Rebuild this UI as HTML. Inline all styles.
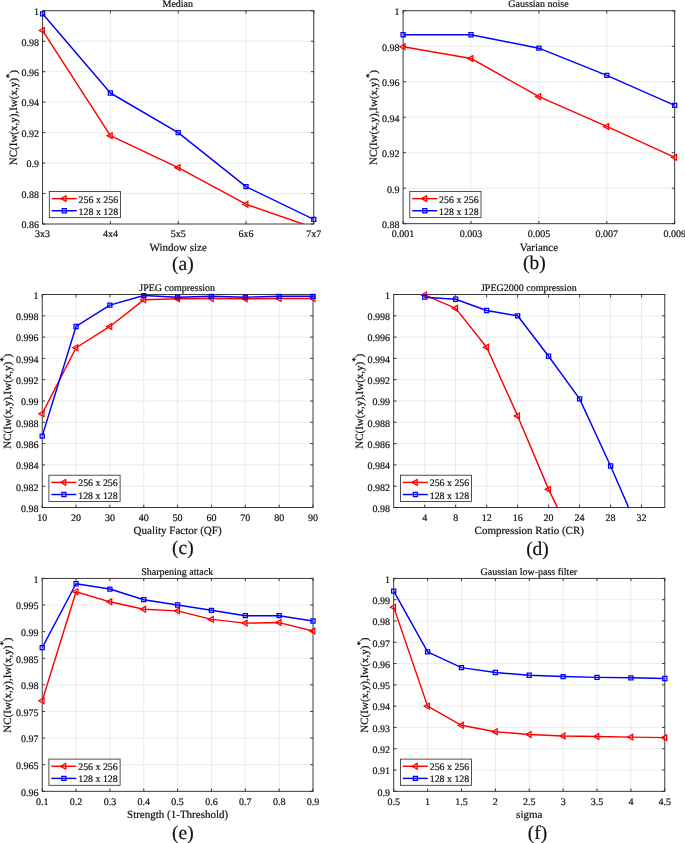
<!DOCTYPE html>
<html><head><meta charset="utf-8"><title>Figure</title>
<style>html,body{margin:0;padding:0;background:#fff}svg{display:block}text{stroke:#111;stroke-width:.2px}</style>
</head><body>
<svg text-rendering="geometricPrecision" width="685" height="843" viewBox="0 0 685 843" font-family='"Liberation Serif", serif' fill="#111">
<rect width="685" height="843" fill="#fff"/>
<g>
<path d="M110.4 10.75V224M178.2 10.75V224M246 10.75V224M42.6 41.21H313.8M42.6 71.68H313.8M42.6 102.14H313.8M42.6 132.61H313.8M42.6 163.07H313.8M42.6 193.54H313.8" stroke="#dedede" stroke-width="0.6" fill="none"/>
<clipPath id="c0"><rect x="42.6" y="9.75" width="271.2" height="214.25"/></clipPath>
<path d="M42.6 224v-2.8M42.6 10.75v2.8M110.4 224v-2.8M110.4 10.75v2.8M178.2 224v-2.8M178.2 10.75v2.8M246 224v-2.8M246 10.75v2.8M313.8 224v-2.8M313.8 10.75v2.8M42.6 10.75h2.8M313.8 10.75h-2.8M42.6 41.21h2.8M313.8 41.21h-2.8M42.6 71.68h2.8M313.8 71.68h-2.8M42.6 102.14h2.8M313.8 102.14h-2.8M42.6 132.61h2.8M313.8 132.61h-2.8M42.6 163.07h2.8M313.8 163.07h-2.8M42.6 193.54h2.8M313.8 193.54h-2.8M42.6 224h2.8M313.8 224h-2.8" stroke="#262626" stroke-width="0.9" fill="none"/>
<rect x="42.6" y="10.75" width="271.2" height="213.25" fill="none" stroke="#262626" stroke-width="0.9"/>
<polyline clip-path="url(#c0)" points="42.6,30.55 110.4,135.65 178.2,167.64 246,204.2 313.8,227.81" fill="none" stroke="#f00" stroke-width="1.45" stroke-linejoin="round"/>
<path d="M39.3 30.55L44.4 27.65L44.4 33.45ZM107.1 135.65L112.2 132.75L112.2 138.55ZM174.9 167.64L180 164.74L180 170.54ZM242.7 204.2L247.8 201.3L247.8 207.1Z" fill="none" stroke="#f00" stroke-width="1.25"/>
<polyline clip-path="url(#c0)" points="42.6,13.8 110.4,93 178.2,132.61 246,186.68 313.8,219.43" fill="none" stroke="#00f" stroke-width="1.45" stroke-linejoin="round"/>
<path d="M40.55 11.75h4.1v4.1h-4.1ZM108.35 90.95h4.1v4.1h-4.1ZM176.15 130.56h4.1v4.1h-4.1ZM243.95 184.63h4.1v4.1h-4.1ZM311.75 217.38h4.1v4.1h-4.1Z" fill="none" stroke="#00f" stroke-width="1.25"/>
<rect x="49.3" y="191.45" width="71.2" height="26.2" fill="#fff" stroke="#262626" stroke-width="0.8"/>
<path d="M51.7 198.65H76.7" stroke="#f00" stroke-width="1.45"/>
<path d="M61 198.65L66.1 195.75L66.1 201.55Z" fill="none" stroke="#f00" stroke-width="1.25"/>
<path d="M51.7 210.75H76.7" stroke="#00f" stroke-width="1.45"/>
<path d="M62.25 208.7h4.1v4.1h-4.1Z" fill="none" stroke="#00f" stroke-width="1.25"/>
<g font-size="9.9"><text x="78.6" y="202.65">256 x 256</text><text x="78.6" y="214.75">128 x 128</text></g>
<g font-size="10" text-anchor="middle">
<text x="42.6" y="237.2">3x3</text>
<text x="110.4" y="237.2">4x4</text>
<text x="178.2" y="237.2">5x5</text>
<text x="246" y="237.2">6x6</text>
<text x="313.8" y="237.2">7x7</text>
</g>
<g font-size="10" text-anchor="end">
<text x="38.9" y="15.05">1</text>
<text x="38.9" y="45.51">0.98</text>
<text x="38.9" y="75.98">0.96</text>
<text x="38.9" y="106.44">0.94</text>
<text x="38.9" y="136.91">0.92</text>
<text x="38.9" y="167.37">0.9</text>
<text x="38.9" y="197.84">0.88</text>
<text x="38.9" y="228.3">0.86</text>
</g>
<text x="177.8" y="7.45" font-size="10" text-anchor="middle">Median</text>
<text x="178.2" y="250.8" font-size="11" text-anchor="middle">Window size</text>
<text x="182.9" y="270.4" font-size="19.5" text-anchor="middle">(a)</text>
<text transform="translate(16.7 117.67) rotate(-90)" font-size="11" text-anchor="middle">NC(Iw(x,y),Iw(x,y)<tspan dy="-5" font-size="9">*</tspan><tspan dy="5" dx="-0.2">)</tspan></text>
</g>
<g>
<path d="M471 10.75V223.7M538.9 10.75V223.7M606.8 10.75V223.7M403.1 46.24H674.7M403.1 81.73H674.7M403.1 117.23H674.7M403.1 152.72H674.7M403.1 188.21H674.7" stroke="#dedede" stroke-width="0.6" fill="none"/>
<clipPath id="c1"><rect x="403.1" y="9.75" width="271.6" height="213.95"/></clipPath>
<path d="M403.1 223.7v-2.8M403.1 10.75v2.8M471 223.7v-2.8M471 10.75v2.8M538.9 223.7v-2.8M538.9 10.75v2.8M606.8 223.7v-2.8M606.8 10.75v2.8M674.7 223.7v-2.8M674.7 10.75v2.8M403.1 10.75h2.8M674.7 10.75h-2.8M403.1 46.24h2.8M674.7 46.24h-2.8M403.1 81.73h2.8M674.7 81.73h-2.8M403.1 117.23h2.8M674.7 117.23h-2.8M403.1 152.72h2.8M674.7 152.72h-2.8M403.1 188.21h2.8M674.7 188.21h-2.8M403.1 223.7h2.8M674.7 223.7h-2.8" stroke="#262626" stroke-width="0.9" fill="none"/>
<rect x="403.1" y="10.75" width="271.6" height="212.95" fill="none" stroke="#262626" stroke-width="0.9"/>
<polyline clip-path="url(#c1)" points="403.1,46.77 471,58.49 538.9,96.64 606.8,126.45 674.7,157.33" fill="none" stroke="#f00" stroke-width="1.45" stroke-linejoin="round"/>
<path d="M399.8 46.77L404.9 43.87L404.9 49.67ZM467.7 58.49L472.8 55.59L472.8 61.39ZM535.6 96.64L540.7 93.74L540.7 99.54ZM603.5 126.45L608.6 123.55L608.6 129.35ZM671.4 157.33L676.5 154.43L676.5 160.23Z" fill="none" stroke="#f00" stroke-width="1.25"/>
<polyline clip-path="url(#c1)" points="403.1,34.71 471,34.71 538.9,48.19 606.8,75.34 674.7,105.34" fill="none" stroke="#00f" stroke-width="1.45" stroke-linejoin="round"/>
<path d="M401.05 32.66h4.1v4.1h-4.1ZM468.95 32.66h4.1v4.1h-4.1ZM536.85 46.14h4.1v4.1h-4.1ZM604.75 73.29h4.1v4.1h-4.1ZM672.65 103.29h4.1v4.1h-4.1Z" fill="none" stroke="#00f" stroke-width="1.25"/>
<rect x="409.8" y="191.45" width="71.2" height="26.2" fill="#fff" stroke="#262626" stroke-width="0.8"/>
<path d="M412.2 198.65H437.2" stroke="#f00" stroke-width="1.45"/>
<path d="M421.5 198.65L426.6 195.75L426.6 201.55Z" fill="none" stroke="#f00" stroke-width="1.25"/>
<path d="M412.2 210.75H437.2" stroke="#00f" stroke-width="1.45"/>
<path d="M422.75 208.7h4.1v4.1h-4.1Z" fill="none" stroke="#00f" stroke-width="1.25"/>
<g font-size="9.9"><text x="439.1" y="202.65">256 x 256</text><text x="439.1" y="214.75">128 x 128</text></g>
<g font-size="10" text-anchor="middle">
<text x="403.1" y="236.9">0.001</text>
<text x="471" y="236.9">0.003</text>
<text x="538.9" y="236.9">0.005</text>
<text x="606.8" y="236.9">0.007</text>
<text x="674.7" y="236.9">0.009</text>
</g>
<g font-size="10" text-anchor="end">
<text x="399.4" y="15.05">1</text>
<text x="399.4" y="50.54">0.98</text>
<text x="399.4" y="86.03">0.96</text>
<text x="399.4" y="121.53">0.94</text>
<text x="399.4" y="157.02">0.92</text>
<text x="399.4" y="192.51">0.9</text>
<text x="399.4" y="228">0.88</text>
</g>
<text x="538.5" y="7.45" font-size="10" text-anchor="middle">Gaussian noise</text>
<text x="538.9" y="250.5" font-size="11" text-anchor="middle">Variance</text>
<text x="534.3" y="268.6" font-size="19.5" text-anchor="middle">(b)</text>
<text transform="translate(377.2 117.52) rotate(-90)" font-size="11" text-anchor="middle">NC(Iw(x,y),Iw(x,y)<tspan dy="-5" font-size="9">*</tspan><tspan dy="5" dx="-0.2">)</tspan></text>
</g>
<g>
<path d="M76.05 294.5V507.5M109.9 294.5V507.5M143.75 294.5V507.5M177.6 294.5V507.5M211.45 294.5V507.5M245.3 294.5V507.5M279.15 294.5V507.5M42.2 315.8H313M42.2 337.1H313M42.2 358.4H313M42.2 379.7H313M42.2 401H313M42.2 422.3H313M42.2 443.6H313M42.2 464.9H313M42.2 486.2H313" stroke="#dedede" stroke-width="0.6" fill="none"/>
<clipPath id="c2"><rect x="42.2" y="293.5" width="270.8" height="214"/></clipPath>
<path d="M42.2 507.5v-2.8M42.2 294.5v2.8M76.05 507.5v-2.8M76.05 294.5v2.8M109.9 507.5v-2.8M109.9 294.5v2.8M143.75 507.5v-2.8M143.75 294.5v2.8M177.6 507.5v-2.8M177.6 294.5v2.8M211.45 507.5v-2.8M211.45 294.5v2.8M245.3 507.5v-2.8M245.3 294.5v2.8M279.15 507.5v-2.8M279.15 294.5v2.8M313 507.5v-2.8M313 294.5v2.8M42.2 294.5h2.8M313 294.5h-2.8M42.2 315.8h2.8M313 315.8h-2.8M42.2 337.1h2.8M313 337.1h-2.8M42.2 358.4h2.8M313 358.4h-2.8M42.2 379.7h2.8M313 379.7h-2.8M42.2 401h2.8M313 401h-2.8M42.2 422.3h2.8M313 422.3h-2.8M42.2 443.6h2.8M313 443.6h-2.8M42.2 464.9h2.8M313 464.9h-2.8M42.2 486.2h2.8M313 486.2h-2.8M42.2 507.5h2.8M313 507.5h-2.8" stroke="#262626" stroke-width="0.9" fill="none"/>
<rect x="42.2" y="294.5" width="270.8" height="213" fill="none" stroke="#262626" stroke-width="0.9"/>
<polyline clip-path="url(#c2)" points="42.2,413.78 76.05,347.75 109.9,326.45 143.75,299.82 177.6,298.76 211.45,298.55 245.3,298.76 279.15,298.55 313,298.55" fill="none" stroke="#f00" stroke-width="1.45" stroke-linejoin="round"/>
<path d="M38.9 413.78L44 410.88L44 416.68ZM72.75 347.75L77.85 344.85L77.85 350.65ZM106.6 326.45L111.7 323.55L111.7 329.35ZM140.45 299.82L145.55 296.92L145.55 302.72ZM174.3 298.76L179.4 295.86L179.4 301.66ZM208.15 298.55L213.25 295.65L213.25 301.45ZM242 298.76L247.1 295.86L247.1 301.66ZM275.85 298.55L280.95 295.65L280.95 301.45ZM309.7 298.55L314.8 295.65L314.8 301.45Z" fill="none" stroke="#f00" stroke-width="1.25"/>
<polyline clip-path="url(#c2)" points="42.2,436.14 76.05,326.45 109.9,305.15 143.75,295.56 177.6,297.16 211.45,296.31 245.3,297.16 279.15,296.31 313,296.31" fill="none" stroke="#00f" stroke-width="1.45" stroke-linejoin="round"/>
<path d="M40.15 434.09h4.1v4.1h-4.1ZM74 324.4h4.1v4.1h-4.1ZM107.85 303.1h4.1v4.1h-4.1ZM141.7 293.51h4.1v4.1h-4.1ZM175.55 295.11h4.1v4.1h-4.1ZM209.4 294.26h4.1v4.1h-4.1ZM243.25 295.11h4.1v4.1h-4.1ZM277.1 294.26h4.1v4.1h-4.1ZM310.95 294.26h4.1v4.1h-4.1Z" fill="none" stroke="#00f" stroke-width="1.25"/>
<rect x="48.9" y="475.2" width="71.2" height="26.2" fill="#fff" stroke="#262626" stroke-width="0.8"/>
<path d="M51.3 482.4H76.3" stroke="#f00" stroke-width="1.45"/>
<path d="M60.6 482.4L65.7 479.5L65.7 485.3Z" fill="none" stroke="#f00" stroke-width="1.25"/>
<path d="M51.3 494.5H76.3" stroke="#00f" stroke-width="1.45"/>
<path d="M61.85 492.45h4.1v4.1h-4.1Z" fill="none" stroke="#00f" stroke-width="1.25"/>
<g font-size="9.9"><text x="78.2" y="486.4">256 x 256</text><text x="78.2" y="498.5">128 x 128</text></g>
<g font-size="10" text-anchor="middle">
<text x="42.2" y="520.7">10</text>
<text x="76.05" y="520.7">20</text>
<text x="109.9" y="520.7">30</text>
<text x="143.75" y="520.7">40</text>
<text x="177.6" y="520.7">50</text>
<text x="211.45" y="520.7">60</text>
<text x="245.3" y="520.7">70</text>
<text x="279.15" y="520.7">80</text>
<text x="313" y="520.7">90</text>
</g>
<g font-size="10" text-anchor="end">
<text x="38.5" y="298.8">1</text>
<text x="38.5" y="320.1">0.998</text>
<text x="38.5" y="341.4">0.996</text>
<text x="38.5" y="362.7">0.994</text>
<text x="38.5" y="384">0.992</text>
<text x="38.5" y="405.3">0.99</text>
<text x="38.5" y="426.6">0.988</text>
<text x="38.5" y="447.9">0.986</text>
<text x="38.5" y="469.2">0.984</text>
<text x="38.5" y="490.5">0.982</text>
<text x="38.5" y="511.8">0.98</text>
</g>
<text x="177.2" y="291.2" font-size="10" text-anchor="middle">JPEG compression</text>
<text x="177.6" y="534.3" font-size="11" text-anchor="middle">Quality Factor (QF)</text>
<text x="182.9" y="554.2" font-size="19.5" text-anchor="middle">(c)</text>
<text transform="translate(11.3 401.3) rotate(-90)" font-size="11" text-anchor="middle">NC(Iw(x,y),Iw(x,y)<tspan dy="-5" font-size="9">*</tspan><tspan dy="5" dx="-0.2">)</tspan></text>
</g>
<g>
<path d="M424.68 294.5V507.5M455.67 294.5V507.5M486.65 294.5V507.5M517.63 294.5V507.5M548.61 294.5V507.5M579.6 294.5V507.5M610.58 294.5V507.5M641.56 294.5V507.5M393.7 315.8H664.8M393.7 337.1H664.8M393.7 358.4H664.8M393.7 379.7H664.8M393.7 401H664.8M393.7 422.3H664.8M393.7 443.6H664.8M393.7 464.9H664.8M393.7 486.2H664.8" stroke="#dedede" stroke-width="0.6" fill="none"/>
<clipPath id="c3"><rect x="393.7" y="293.5" width="271.1" height="214"/></clipPath>
<path d="M424.68 507.5v-2.8M424.68 294.5v2.8M455.67 507.5v-2.8M455.67 294.5v2.8M486.65 507.5v-2.8M486.65 294.5v2.8M517.63 507.5v-2.8M517.63 294.5v2.8M548.61 507.5v-2.8M548.61 294.5v2.8M579.6 507.5v-2.8M579.6 294.5v2.8M610.58 507.5v-2.8M610.58 294.5v2.8M641.56 507.5v-2.8M641.56 294.5v2.8M393.7 294.5h2.8M664.8 294.5h-2.8M393.7 315.8h2.8M664.8 315.8h-2.8M393.7 337.1h2.8M664.8 337.1h-2.8M393.7 358.4h2.8M664.8 358.4h-2.8M393.7 379.7h2.8M664.8 379.7h-2.8M393.7 401h2.8M664.8 401h-2.8M393.7 422.3h2.8M664.8 422.3h-2.8M393.7 443.6h2.8M664.8 443.6h-2.8M393.7 464.9h2.8M664.8 464.9h-2.8M393.7 486.2h2.8M664.8 486.2h-2.8M393.7 507.5h2.8M664.8 507.5h-2.8" stroke="#262626" stroke-width="0.9" fill="none"/>
<rect x="393.7" y="294.5" width="271.1" height="213" fill="none" stroke="#262626" stroke-width="0.9"/>
<polyline clip-path="url(#c3)" points="424.68,294.93 455.67,308.34 486.65,347.22 517.63,415.91 548.61,489.39 579.6,553.29" fill="none" stroke="#f00" stroke-width="1.45" stroke-linejoin="round"/>
<path d="M421.38 294.93L426.48 292.03L426.48 297.83ZM452.37 308.34L457.47 305.44L457.47 311.24ZM483.35 347.22L488.45 344.32L488.45 350.12ZM514.33 415.91L519.43 413.01L519.43 418.81ZM545.31 489.39L550.41 486.49L550.41 492.29Z" fill="none" stroke="#f00" stroke-width="1.25"/>
<polyline clip-path="url(#c3)" points="424.68,297.16 455.67,299.29 486.65,310.47 517.63,315.8 548.61,356.27 579.6,398.87 610.58,465.96 641.56,537.32" fill="none" stroke="#00f" stroke-width="1.45" stroke-linejoin="round"/>
<path d="M422.63 295.11h4.1v4.1h-4.1ZM453.62 297.24h4.1v4.1h-4.1ZM484.6 308.42h4.1v4.1h-4.1ZM515.58 313.75h4.1v4.1h-4.1ZM546.56 354.22h4.1v4.1h-4.1ZM577.55 396.82h4.1v4.1h-4.1ZM608.53 463.91h4.1v4.1h-4.1Z" fill="none" stroke="#00f" stroke-width="1.25"/>
<rect x="400.4" y="475.2" width="71.2" height="26.2" fill="#fff" stroke="#262626" stroke-width="0.8"/>
<path d="M402.8 482.4H427.8" stroke="#f00" stroke-width="1.45"/>
<path d="M412.1 482.4L417.2 479.5L417.2 485.3Z" fill="none" stroke="#f00" stroke-width="1.25"/>
<path d="M402.8 494.5H427.8" stroke="#00f" stroke-width="1.45"/>
<path d="M413.35 492.45h4.1v4.1h-4.1Z" fill="none" stroke="#00f" stroke-width="1.25"/>
<g font-size="9.9"><text x="429.7" y="486.4">256 x 256</text><text x="429.7" y="498.5">128 x 128</text></g>
<g font-size="10" text-anchor="middle">
<text x="424.68" y="520.7">4</text>
<text x="455.67" y="520.7">8</text>
<text x="486.65" y="520.7">12</text>
<text x="517.63" y="520.7">16</text>
<text x="548.61" y="520.7">20</text>
<text x="579.6" y="520.7">24</text>
<text x="610.58" y="520.7">28</text>
<text x="641.56" y="520.7">32</text>
</g>
<g font-size="10" text-anchor="end">
<text x="390" y="298.8">1</text>
<text x="390" y="320.1">0.998</text>
<text x="390" y="341.4">0.996</text>
<text x="390" y="362.7">0.994</text>
<text x="390" y="384">0.992</text>
<text x="390" y="405.3">0.99</text>
<text x="390" y="426.6">0.988</text>
<text x="390" y="447.9">0.986</text>
<text x="390" y="469.2">0.984</text>
<text x="390" y="490.5">0.982</text>
<text x="390" y="511.8">0.98</text>
</g>
<text x="528.85" y="291.2" font-size="10" text-anchor="middle">JPEG2000 compression</text>
<text x="529.25" y="534.3" font-size="11" text-anchor="middle">Compression Ratio (CR)</text>
<text x="537.5" y="554.5" font-size="19.5" text-anchor="middle">(d)</text>
<text transform="translate(362.8 401.3) rotate(-90)" font-size="11" text-anchor="middle">NC(Iw(x,y),Iw(x,y)<tspan dy="-5" font-size="9">*</tspan><tspan dy="5" dx="-0.2">)</tspan></text>
</g>
<g>
<path d="M76.05 578.4V791.3M109.9 578.4V791.3M143.75 578.4V791.3M177.6 578.4V791.3M211.45 578.4V791.3M245.3 578.4V791.3M279.15 578.4V791.3M42.2 605.01H313M42.2 631.62H313M42.2 658.24H313M42.2 684.85H313M42.2 711.46H313M42.2 738.07H313M42.2 764.69H313" stroke="#dedede" stroke-width="0.6" fill="none"/>
<clipPath id="c4"><rect x="42.2" y="577.4" width="270.8" height="213.9"/></clipPath>
<path d="M42.2 791.3v-2.8M42.2 578.4v2.8M76.05 791.3v-2.8M76.05 578.4v2.8M109.9 791.3v-2.8M109.9 578.4v2.8M143.75 791.3v-2.8M143.75 578.4v2.8M177.6 791.3v-2.8M177.6 578.4v2.8M211.45 791.3v-2.8M211.45 578.4v2.8M245.3 791.3v-2.8M245.3 578.4v2.8M279.15 791.3v-2.8M279.15 578.4v2.8M313 791.3v-2.8M313 578.4v2.8M42.2 578.4h2.8M313 578.4h-2.8M42.2 605.01h2.8M313 605.01h-2.8M42.2 631.62h2.8M313 631.62h-2.8M42.2 658.24h2.8M313 658.24h-2.8M42.2 684.85h2.8M313 684.85h-2.8M42.2 711.46h2.8M313 711.46h-2.8M42.2 738.07h2.8M313 738.07h-2.8M42.2 764.69h2.8M313 764.69h-2.8M42.2 791.3h2.8M313 791.3h-2.8" stroke="#262626" stroke-width="0.9" fill="none"/>
<rect x="42.2" y="578.4" width="270.8" height="212.9" fill="none" stroke="#262626" stroke-width="0.9"/>
<polyline clip-path="url(#c4)" points="42.2,700.82 76.05,591.71 109.9,601.82 143.75,609.27 177.6,610.87 211.45,619.38 245.3,623.11 279.15,622.58 313,631.09" fill="none" stroke="#f00" stroke-width="1.45" stroke-linejoin="round"/>
<path d="M38.9 700.82L44 697.92L44 703.72ZM72.75 591.71L77.85 588.81L77.85 594.61ZM106.6 601.82L111.7 598.92L111.7 604.72ZM140.45 609.27L145.55 606.37L145.55 612.17ZM174.3 610.87L179.4 607.97L179.4 613.77ZM208.15 619.38L213.25 616.48L213.25 622.28ZM242 623.11L247.1 620.21L247.1 626.01ZM275.85 622.58L280.95 619.68L280.95 625.48ZM309.7 631.09L314.8 628.19L314.8 633.99Z" fill="none" stroke="#f00" stroke-width="1.25"/>
<polyline clip-path="url(#c4)" points="42.2,647.59 76.05,583.72 109.9,589.04 143.75,599.69 177.6,605.01 211.45,610.34 245.3,615.66 279.15,615.66 313,620.98" fill="none" stroke="#00f" stroke-width="1.45" stroke-linejoin="round"/>
<path d="M40.15 645.54h4.1v4.1h-4.1ZM74 581.67h4.1v4.1h-4.1ZM107.85 587h4.1v4.1h-4.1ZM141.7 597.64h4.1v4.1h-4.1ZM175.55 602.96h4.1v4.1h-4.1ZM209.4 608.29h4.1v4.1h-4.1ZM243.25 613.61h4.1v4.1h-4.1ZM277.1 613.61h4.1v4.1h-4.1ZM310.95 618.93h4.1v4.1h-4.1Z" fill="none" stroke="#00f" stroke-width="1.25"/>
<rect x="48.9" y="759.1" width="71.2" height="26.2" fill="#fff" stroke="#262626" stroke-width="0.8"/>
<path d="M51.3 766.3H76.3" stroke="#f00" stroke-width="1.45"/>
<path d="M60.6 766.3L65.7 763.4L65.7 769.2Z" fill="none" stroke="#f00" stroke-width="1.25"/>
<path d="M51.3 778.4H76.3" stroke="#00f" stroke-width="1.45"/>
<path d="M61.85 776.35h4.1v4.1h-4.1Z" fill="none" stroke="#00f" stroke-width="1.25"/>
<g font-size="9.9"><text x="78.2" y="770.3">256 x 256</text><text x="78.2" y="782.4">128 x 128</text></g>
<g font-size="10" text-anchor="middle">
<text x="42.2" y="804.5">0.1</text>
<text x="76.05" y="804.5">0.2</text>
<text x="109.9" y="804.5">0.3</text>
<text x="143.75" y="804.5">0.4</text>
<text x="177.6" y="804.5">0.5</text>
<text x="211.45" y="804.5">0.6</text>
<text x="245.3" y="804.5">0.7</text>
<text x="279.15" y="804.5">0.8</text>
<text x="313" y="804.5">0.9</text>
</g>
<g font-size="10" text-anchor="end">
<text x="38.5" y="582.7">1</text>
<text x="38.5" y="609.31">0.995</text>
<text x="38.5" y="635.92">0.99</text>
<text x="38.5" y="662.54">0.985</text>
<text x="38.5" y="689.15">0.98</text>
<text x="38.5" y="715.76">0.975</text>
<text x="38.5" y="742.37">0.97</text>
<text x="38.5" y="768.99">0.965</text>
<text x="38.5" y="795.6">0.96</text>
</g>
<text x="177.2" y="575.1" font-size="10" text-anchor="middle">Sharpening attack</text>
<text x="177.6" y="818.1" font-size="11" text-anchor="middle">Strength (1-Threshold)</text>
<text x="182.9" y="838.5" font-size="19.5" text-anchor="middle">(e)</text>
<text transform="translate(11.3 685.15) rotate(-90)" font-size="11" text-anchor="middle">NC(Iw(x,y),Iw(x,y)<tspan dy="-5" font-size="9">*</tspan><tspan dy="5" dx="-0.2">)</tspan></text>
</g>
<g>
<path d="M427.59 578.4V791.3M461.47 578.4V791.3M495.36 578.4V791.3M529.25 578.4V791.3M563.14 578.4V791.3M597.02 578.4V791.3M630.91 578.4V791.3M393.7 599.69H664.8M393.7 620.98H664.8M393.7 642.27H664.8M393.7 663.56H664.8M393.7 684.85H664.8M393.7 706.14H664.8M393.7 727.43H664.8M393.7 748.72H664.8M393.7 770.01H664.8" stroke="#dedede" stroke-width="0.6" fill="none"/>
<clipPath id="c5"><rect x="393.7" y="577.4" width="271.1" height="213.9"/></clipPath>
<path d="M393.7 791.3v-2.8M393.7 578.4v2.8M427.59 791.3v-2.8M427.59 578.4v2.8M461.47 791.3v-2.8M461.47 578.4v2.8M495.36 791.3v-2.8M495.36 578.4v2.8M529.25 791.3v-2.8M529.25 578.4v2.8M563.14 791.3v-2.8M563.14 578.4v2.8M597.02 791.3v-2.8M597.02 578.4v2.8M630.91 791.3v-2.8M630.91 578.4v2.8M664.8 791.3v-2.8M664.8 578.4v2.8M393.7 578.4h2.8M664.8 578.4h-2.8M393.7 599.69h2.8M664.8 599.69h-2.8M393.7 620.98h2.8M664.8 620.98h-2.8M393.7 642.27h2.8M664.8 642.27h-2.8M393.7 663.56h2.8M664.8 663.56h-2.8M393.7 684.85h2.8M664.8 684.85h-2.8M393.7 706.14h2.8M664.8 706.14h-2.8M393.7 727.43h2.8M664.8 727.43h-2.8M393.7 748.72h2.8M664.8 748.72h-2.8M393.7 770.01h2.8M664.8 770.01h-2.8M393.7 791.3h2.8M664.8 791.3h-2.8" stroke="#262626" stroke-width="0.9" fill="none"/>
<rect x="393.7" y="578.4" width="271.1" height="212.9" fill="none" stroke="#262626" stroke-width="0.9"/>
<polyline clip-path="url(#c5)" points="393.7,607.14 427.59,706.14 461.47,725.3 495.36,731.69 529.25,734.46 563.14,735.95 597.02,736.58 630.91,737.12 664.8,737.65" fill="none" stroke="#f00" stroke-width="1.45" stroke-linejoin="round"/>
<path d="M390.4 607.14L395.5 604.24L395.5 610.04ZM424.29 706.14L429.39 703.24L429.39 709.04ZM458.17 725.3L463.27 722.4L463.27 728.2ZM492.06 731.69L497.16 728.79L497.16 734.59ZM525.95 734.46L531.05 731.56L531.05 737.36ZM559.84 735.95L564.94 733.05L564.94 738.85ZM593.73 736.58L598.82 733.68L598.82 739.48ZM627.61 737.12L632.71 734.22L632.71 740.02ZM661.5 737.65L666.6 734.75L666.6 740.55Z" fill="none" stroke="#f00" stroke-width="1.25"/>
<polyline clip-path="url(#c5)" points="393.7,591.17 427.59,651.85 461.47,667.61 495.36,672.5 529.25,675.27 563.14,676.55 597.02,677.4 630.91,677.82 664.8,678.46" fill="none" stroke="#00f" stroke-width="1.45" stroke-linejoin="round"/>
<path d="M391.65 589.12h4.1v4.1h-4.1ZM425.54 649.8h4.1v4.1h-4.1ZM459.42 665.56h4.1v4.1h-4.1ZM493.31 670.45h4.1v4.1h-4.1ZM527.2 673.22h4.1v4.1h-4.1ZM561.09 674.5h4.1v4.1h-4.1ZM594.98 675.35h4.1v4.1h-4.1ZM628.86 675.77h4.1v4.1h-4.1ZM662.75 676.41h4.1v4.1h-4.1Z" fill="none" stroke="#00f" stroke-width="1.25"/>
<rect x="400.4" y="759.1" width="71.2" height="26.2" fill="#fff" stroke="#262626" stroke-width="0.8"/>
<path d="M402.8 766.3H427.8" stroke="#f00" stroke-width="1.45"/>
<path d="M412.1 766.3L417.2 763.4L417.2 769.2Z" fill="none" stroke="#f00" stroke-width="1.25"/>
<path d="M402.8 778.4H427.8" stroke="#00f" stroke-width="1.45"/>
<path d="M413.35 776.35h4.1v4.1h-4.1Z" fill="none" stroke="#00f" stroke-width="1.25"/>
<g font-size="9.9"><text x="429.7" y="770.3">256 x 256</text><text x="429.7" y="782.4">128 x 128</text></g>
<g font-size="10" text-anchor="middle">
<text x="393.7" y="804.5">0.5</text>
<text x="427.59" y="804.5">1</text>
<text x="461.47" y="804.5">1.5</text>
<text x="495.36" y="804.5">2</text>
<text x="529.25" y="804.5">2.5</text>
<text x="563.14" y="804.5">3</text>
<text x="597.02" y="804.5">3.5</text>
<text x="630.91" y="804.5">4</text>
<text x="664.8" y="804.5">4.5</text>
</g>
<g font-size="10" text-anchor="end">
<text x="390" y="582.7">1</text>
<text x="390" y="603.99">0.99</text>
<text x="390" y="625.28">0.98</text>
<text x="390" y="646.57">0.97</text>
<text x="390" y="667.86">0.96</text>
<text x="390" y="689.15">0.95</text>
<text x="390" y="710.44">0.94</text>
<text x="390" y="731.73">0.93</text>
<text x="390" y="753.02">0.92</text>
<text x="390" y="774.31">0.91</text>
<text x="390" y="795.6">0.9</text>
</g>
<text x="528.85" y="575.1" font-size="10" text-anchor="middle">Gaussian low-pass filter</text>
<text x="529.25" y="818.1" font-size="11" text-anchor="middle">sigma</text>
<text x="537.4" y="838.7" font-size="19.5" text-anchor="middle">(f)</text>
<text transform="translate(367.8 685.15) rotate(-90)" font-size="11" text-anchor="middle">NC(Iw(x,y),Iw(x,y)<tspan dy="-5" font-size="9">*</tspan><tspan dy="5" dx="-0.2">)</tspan></text>
</g>
</svg>
</body></html>
